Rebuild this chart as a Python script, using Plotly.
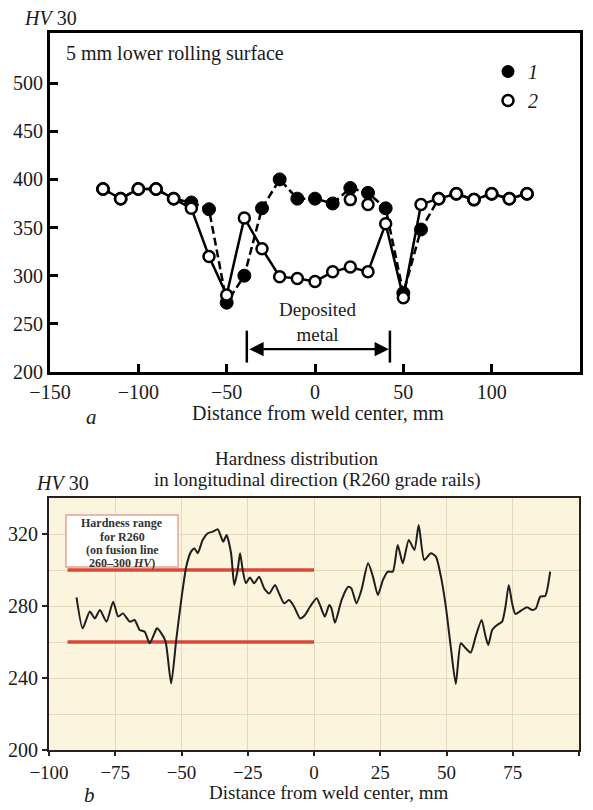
import plotly.graph_objects as go

# ---------- panel a data ----------
dist_a = [-120, -110, -100, -90, -80, -70, -60, -50, -40, -30, -20, -10, 0,
          10, 20, 30, 40, 50, 60, 70, 80, 90, 100, 110, 120]
hv_series1 = [390, 380, 390, 390, 380, 376, 369, 272, 300, 370, 400, 380, 380,
              375, 391, 386, 370, 282, 348, 380, 385, 379, 385, 380, 385]
hv_series2 = [390, 380, 390, 390, 380, 370, 320, 280, 360, 328, 299, 297, 294,
              304, 309, 304, 354, 277, 374, 380, 385, 379, 385, 380, 385]
extra_x = [20, 30]
extra_hv = [379, 374]
yticks_a = [200, 250, 300, 350, 400, 450, 500]

# ---------- panel b data ----------
dist_b = [-89.6, -87.3, -84.6, -82.7, -80.8, -78.3, -75.8, -73.9, -72.1, -69.5,
          -67.7, -65.8, -63.9, -62.0, -60.2, -59.3, -57.6, -56.0, -53.9, -52.0,
          -50.1, -48.2, -46.4, -45.1, -43.9, -42.0, -40.1, -38.2, -36.3, -35.1,
          -34.2, -33.0, -31.3, -30.1, -28.8, -27.9, -26.9, -25.7, -24.2, -22.6,
          -20.7, -18.8, -16.9, -14.7, -13.2, -11.3, -9.4, -7.5, -5.25, -3.4,
          -1.5, 1.0, 2.25, 4.1, 5.75, 6.6, 7.9, 10.4, 12.9, 14.1,
          16.0, 17.9, 20.4, 22.25, 24.1, 26.0, 27.9, 29.75, 31.6, 33.5,
          35.75, 37.9, 39.5, 41.6, 44.1, 46.0, 47.9, 49.75, 51.6, 53.5,
          55.4, 57.25, 59.1, 61.0, 63.25, 64.75, 65.75, 67.25, 69.1, 71.0,
          72.25, 73.5, 74.75, 76.0, 78.5, 80.4, 82.25, 83.75, 85.4, 87.25,
          89.1]
hv_b = [284.8, 267.6, 276.9, 273.1, 277.8, 271.3, 282.4, 274.1, 275.9, 271.3,
        272.2, 266.7, 265.7, 259.3, 264.8, 267.6, 264.8, 260.2, 237.0, 261.1,
        283.3, 301.9, 310.2, 312.0, 309.3, 316.7, 320.4, 321.3, 322.6, 318.5,
        315.7, 319.4, 309.3, 291.7, 300.0, 309.3, 300.0, 292.6, 295.9, 292.6,
        296.3, 289.8, 287.0, 291.7, 287.0, 281.5, 283.3, 279.6, 273.1, 275.0,
        279.6, 284.3, 280.6, 274.1, 280.6, 278.7, 270.7, 283.3, 290.7, 289.8,
        281.5, 288.9, 303.7, 296.3, 286.1, 294.4, 299.1, 299.1, 313.9, 303.7,
        316.7, 311.1, 325.0, 305.6, 309.3, 307.4, 296.3, 279.6, 257.4, 236.7,
        259.3, 256.5, 254.1, 263.0, 272.2, 263.0, 258.3, 266.7, 269.4, 271.3,
        279.6, 291.7, 281.5, 275.6, 277.8, 279.3, 277.8, 278.7, 285.2, 285.6,
        299.1]
range_x = [-93, 0]
range_low = 260
range_high = 300
note_lines = ["Hardness range", "for R260", "(on fusion line", "260–300 <i>HV</i>)"]

# the page body adds an 8px margin, so the figure is 8px smaller each way
OFF = 8
W, H = 593 - OFF, 810 - OFF
FONT = "Liberation Serif, Times New Roman, serif"
TXT = "#1a1a1a"

def px(x):
    return (x - OFF) / W

def py(y):
    return 1 - (y - OFF) / H

fig = go.Figure()

# panel a traces
fig.add_trace(go.Scatter(
    x=dist_a, y=hv_series1, mode="lines+markers", showlegend=False,
    line=dict(color="black", width=2.5, dash="8px,4px"),
    marker=dict(symbol="circle", size=13, color="black",
                line=dict(color="black", width=1)),
    xaxis="x", yaxis="y"))
fig.add_trace(go.Scatter(
    x=extra_x, y=extra_hv, mode="markers", showlegend=False,
    marker=dict(symbol="circle", size=11, color="white",
                line=dict(color="black", width=2.5)),
    xaxis="x", yaxis="y"))
fig.add_trace(go.Scatter(
    x=dist_a, y=hv_series2, mode="lines+markers", showlegend=False,
    line=dict(color="black", width=2.5),
    marker=dict(symbol="circle", size=11, color="white",
                line=dict(color="black", width=2.5)),
    xaxis="x", yaxis="y"))
# legend entries
fig.add_trace(go.Scatter(
    x=[None], y=[None], mode="markers", name="<i>1</i>",
    marker=dict(symbol="circle", size=13, color="black"),
    xaxis="x", yaxis="y"))
fig.add_trace(go.Scatter(
    x=[None], y=[None], mode="markers", name="<i>2</i>",
    marker=dict(symbol="circle", size=11, color="white",
                line=dict(color="black", width=2.5)),
    xaxis="x", yaxis="y"))

# panel b traces
for lvl in (range_high, range_low):
    fig.add_trace(go.Scatter(
        x=range_x, y=[lvl, lvl], mode="lines", showlegend=False,
        line=dict(color="#D8483A", width=3.5),
        xaxis="x2", yaxis="y2"))
fig.add_trace(go.Scatter(
    x=dist_b, y=hv_b, mode="lines", showlegend=False,
    line=dict(color="#1e1e1e", width=2, shape="spline", smoothing=0.6),
    xaxis="x2", yaxis="y2"))

fig.update_layout(
    width=W, height=H, autosize=False,
    margin=dict(l=0, r=0, t=0, b=0, autoexpand=False),
    paper_bgcolor="white", plot_bgcolor="white",
    font=dict(family=FONT, size=20, color=TXT),
    showlegend=True,
    legend=dict(x=px(488), y=py(52), xanchor="left", yanchor="top",
                bgcolor="rgba(0,0,0,0)", font=dict(size=20, family=FONT),
                itemwidth=30, tracegroupgap=0),
    xaxis=dict(domain=[px(50), px(580)], range=[-150, 150], dtick=50, tick0=-150,
               ticks="inside", ticklen=8, tickwidth=2.5, tickcolor="black",
               showline=True, linewidth=3, linecolor="black", mirror=True,
               showgrid=False, zeroline=False, anchor="y", automargin=False,
               tickfont=dict(size=20, color=TXT)),
    yaxis=dict(domain=[py(372), py(33)], range=[200, 552], tickvals=yticks_a,
               ticks="inside", ticklen=8, tickwidth=2.5, tickcolor="black",
               showline=True, linewidth=3, linecolor="black", mirror=True,
               showgrid=False, zeroline=False, anchor="x", automargin=False,
               tickfont=dict(size=20, color=TXT)),
    xaxis2=dict(domain=[px(49), px(579)], range=[-100, 100], dtick=25, tick0=-100,
                ticks="outside", ticklen=4, tickwidth=1.5, tickcolor="#222",
                showline=True, linewidth=2, linecolor="#222", mirror=True,
                showgrid=True, gridcolor="#E4D9BC", gridwidth=1,
                zeroline=False, anchor="y2", automargin=False,
                tickfont=dict(size=19, color=TXT)),
    yaxis2=dict(domain=[py(750), py(498)], range=[200, 340], dtick=40, tick0=200,
                ticks="outside", ticklen=5, tickwidth=1.5, tickcolor="#222",
                showline=True, linewidth=2, linecolor="#222", mirror=True,
                showgrid=True, gridcolor="#E4D9BC", gridwidth=1,
                minor=dict(dtick=20, tick0=200, showgrid=True,
                           gridcolor="#E4D9BC", gridwidth=1, ticks=""),
                zeroline=False, anchor="x2", automargin=False,
                tickfont=dict(size=20, color=TXT)),
)

shapes = [
    # cream background for panel b
    dict(type="rect", xref="x2 domain", yref="y2 domain", x0=0, x1=1, y0=0, y1=1,
         fillcolor="#FCF5DE", line=dict(width=0), layer="below"),
    # box for hardness range note
    dict(type="rect", xref="x2", yref="y2", x0=-93.6, x1=-51.3, y0=301.7, y1=330.6,
         fillcolor="white", line=dict(color="#E9A094", width=1.5), layer="above"),
    # deposited metal bars
    dict(type="line", xref="x", yref="y", x0=-38.6, x1=-38.6, y0=209.8, y1=242.9,
         line=dict(color="black", width=2.5)),
    dict(type="line", xref="x", yref="y", x0=42.4, x1=42.4, y0=209.8, y1=242.9,
         line=dict(color="black", width=2.5)),
]
fig.update_layout(shapes=shapes)

def ptxt(text, x, y, size=20, xanchor="center"):
    return dict(text=text, xref="paper", yref="paper", x=px(x), y=py(y),
                xanchor=xanchor, yanchor="middle", showarrow=False,
                font=dict(size=size))

ann = [
    ptxt("<i>HV</i> 30", 50, 18),
    ptxt("5 mm lower rolling surface", 64, 53, 20, "left"),
    dict(text="Deposited<br>metal", xref="x", yref="y", x=1.7, y=251.7,
         xanchor="center", yanchor="middle", showarrow=False, font=dict(size=19)),
    dict(text="", xref="x", yref="y", x=42.4, y=223.7, ax=-38.6, ay=223.7,
         axref="x", ayref="y", showarrow=True, arrowside="end+start",
         arrowhead=2, startarrowhead=2, arrowsize=1.3, startarrowsize=1.3,
         arrowwidth=2.2, arrowcolor="black", standoff=1, startstandoff=1),
    ptxt("Distance from weld center, mm", 318, 413),
    ptxt("<i>a</i>", 91, 417, 21),
    # panel b
    ptxt("Hardness distribution", 297, 458, 19),
    ptxt("in longitudinal direction (R260 grade rails)", 317, 480, 19),
    ptxt("<i>HV</i> 30", 62, 483),
    ptxt("Distance from weld center, mm", 329, 792, 19),
    ptxt("<i>b</i>", 89, 795, 21),
]
note_y = [326.1, 318.6, 311.1, 303.9]
for line_txt, yy in zip(note_lines, note_y):
    ann.append(dict(text="<b>" + line_txt + "</b>", xref="x2", yref="y2",
                    x=-72.4, y=yy, xanchor="center", yanchor="middle",
                    showarrow=False, font=dict(size=12, color="#333")))
fig.update_layout(annotations=ann)

fig.write_html("out.html")
